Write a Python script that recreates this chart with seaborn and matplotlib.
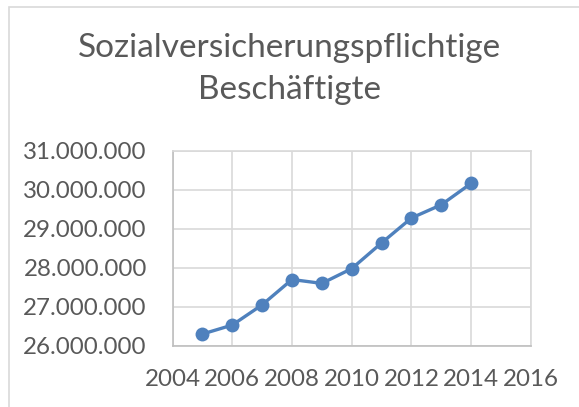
import numpy as np
import matplotlib
matplotlib.use("Agg")
import matplotlib.pyplot as plt
import matplotlib.ticker as mticker
from matplotlib.patches import Rectangle
import seaborn as sns
import pandas as pd

jahre = [2005, 2006, 2007, 2008, 2009, 2010, 2011, 2012, 2013, 2014]
beschaeftigte = [26300000, 26530000, 27050000, 27700000, 27600000,
                 27980000, 28640000, 29280000, 29620000, 30170000]
titel = "Sozialversicherungspflichtige\nBeschäftigte"

df = pd.DataFrame({"Jahr": jahre, "Beschaeftigte": beschaeftigte})

sns.set_theme(style="white")
plt.rcParams['font.family'] = ['Lato', 'DejaVu Sans']

grau = '#595959'
blau = '#4F81BD'

fig = plt.figure(figsize=(5.79, 4.07), dpi=100)
ax = fig.add_axes([0.298, 0.1506, 0.619, 0.4784])

sns.lineplot(data=df, x="Jahr", y="Beschaeftigte", ax=ax, color=blau,
             linewidth=2.4, marker='o', markersize=10, markeredgewidth=0,
             zorder=3)

ax.set_xlim(2004, 2016)
ax.set_ylim(26000000, 31000000)
ax.xaxis.set_major_locator(mticker.MultipleLocator(2))
ax.yaxis.set_major_locator(mticker.MultipleLocator(1000000))
ax.yaxis.set_major_formatter(mticker.FuncFormatter(
    lambda v, p: f"{int(v):,}".replace(",", ".")))
ax.grid(True, color='#D9D9D9', linewidth=1.2)
ax.set_xlabel("")
ax.set_ylabel("")
for s in ax.spines.values():
    s.set_color('#D9D9D9')
    s.set_linewidth(1.2)
ax.spines['left'].set_color('#BFBFBF')
ax.spines['bottom'].set_color('#BFBFBF')
ax.tick_params(axis='both', length=0, labelsize=17.4, colors=grau)
ax.tick_params(axis='y', pad=18.5)
ax.tick_params(axis='x', pad=17)

fig.text(0.5, 0.92, titel, ha='center', va='top', fontsize=24,
         color=grau, linespacing=1.5)

# Rahmen des Diagramms
fig.patches.append(Rectangle((0.0155, -0.1), 1.2, 1.084, transform=fig.transFigure,
                             fill=False, edgecolor='#D9D9D9', linewidth=1.2))

fig.savefig("out.png", dpi=100)
